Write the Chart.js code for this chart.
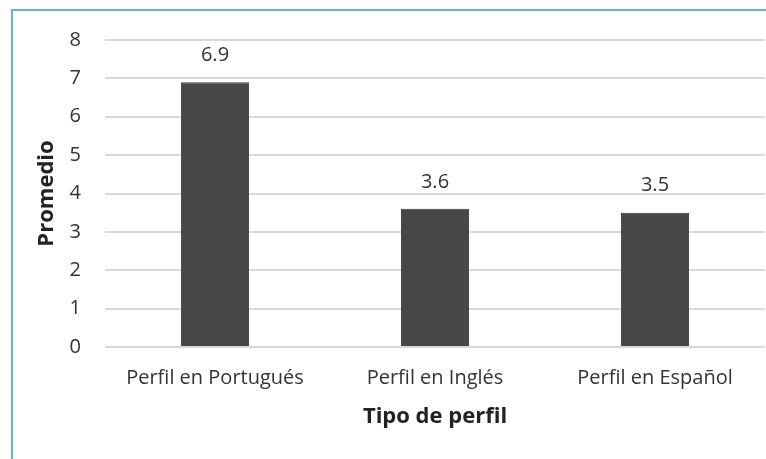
<!DOCTYPE html>
<html>
<head>
<meta charset="utf-8">
<script src="https://cdn.jsdelivr.net/npm/chart.js@4/dist/chart.umd.min.js"></script>
<style>
  html, body { margin: 0; padding: 0; background: #fff; }
  #wrap { position: relative; width: 766px; height: 459px; overflow: hidden; }
  #frame { position: absolute; left: 11px; top: 9px; width: 800px; height: 500px;
           border-left: 2px solid #6aaee0; border-top: 2px solid #6aaee0; }
  #c { position: absolute; left: 0; top: 0; }
</style>
</head>
<body>
<div id="wrap">
  <div id="frame"></div>
  <canvas id="c" width="766" height="459"></canvas>
</div>
<script>
const categories = ['Perfil en Portugués', 'Perfil en Inglés', 'Perfil en Español'];
const promedios = [6.9, 3.6, 3.5];
const yTicks = [0, 1, 2, 3, 4, 5, 6, 7, 8];

const textColor = '#333333';
const fontFamily = '"Open Sans", sans-serif';

// Value labels above each bar
const valueLabels = {
  id: 'valueLabels',
  afterDatasetsDraw(chart) {
    const { ctx } = chart;
    const meta = chart.getDatasetMeta(0);
    ctx.save();
    ctx.font = '20px ' + fontFamily;
    ctx.fillStyle = textColor;
    ctx.textAlign = 'center';
    ctx.textBaseline = 'middle';
    meta.data.forEach((bar, i) => {
      ctx.fillText(promedios[i].toFixed(1), bar.x, bar.y - 27);
    });
    ctx.restore();
  }
};

new Chart(document.getElementById('c'), {
  type: 'bar',
  data: {
    labels: categories,
    datasets: [{
      data: promedios,
      backgroundColor: '#474747',
      borderColor: '#3a3a3a',
      borderWidth: 1,
      categoryPercentage: 1,
      barPercentage: 0.31
    }]
  },
  options: {
    responsive: false,
    animation: false,
    events: [],
    layout: { padding: { top: 40, right: 1, bottom: 0, left: 0 } },
    plugins: { legend: { display: false }, tooltip: { enabled: false } },
    scales: {
      x: {
        grid: { display: false, drawTicks: false },
        border: { display: false },
        ticks: { color: textColor, font: { family: fontFamily, size: 20 }, padding: 19, maxRotation: 0 },
        title: {
          display: true, text: 'Tipo de perfil', color: '#222',
          font: { family: fontFamily, size: 22, weight: 'bold' },
          padding: { top: 4, bottom: 29 }
        },
        afterFit(scale) { scale.height = 112; }
      },
      y: {
        min: 0, max: 8,
        afterBuildTicks(scale) { scale.ticks = yTicks.map(v => ({ value: v })); },
        grid: { color: '#d9d9d9', lineWidth: 2, drawTicks: false },
        border: { display: false },
        ticks: { color: textColor, font: { family: fontFamily, size: 20 }, padding: 24 },
        title: {
          display: true, text: 'Promedio', color: '#222',
          font: { family: fontFamily, size: 22, weight: 'bold' },
          padding: { top: 34, bottom: 0 }
        },
        afterFit(scale) { scale.width = 105; }
      }
    }
  },
  plugins: [valueLabels]
});
</script>
</body>
</html>
